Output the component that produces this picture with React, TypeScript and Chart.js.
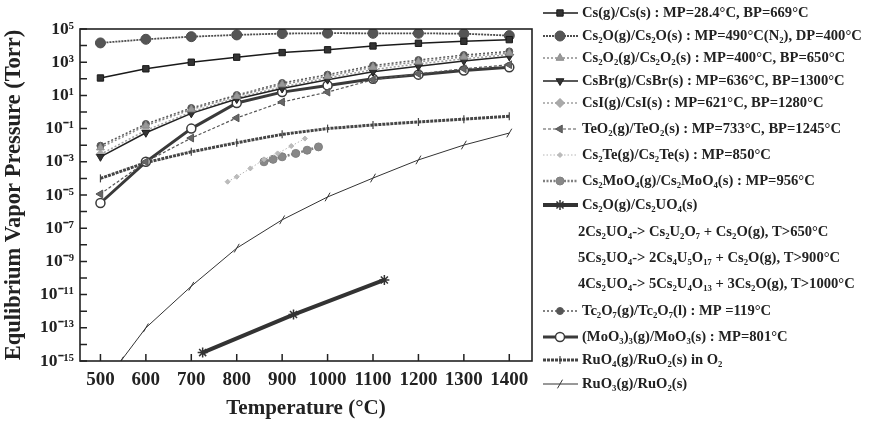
import React, { useEffect, useRef } from 'react';
import { Chart, registerables } from 'chart.js';
import { drawPoint } from 'chart.js/helpers';

Chart.register(...registerables);

const FONT = "'Liberation Serif', 'Times New Roman', serif";

// ---- data ----
const TEMPS = [500, 600, 700, 800, 900, 1000, 1100, 1200, 1300, 1400];
const CS = [112, 400, 1000, 2000, 3800, 5600, 9500, 13800, 18200, 22900];
const CS2O = [14500, 24000, 34500, 44000, 53000, 56000, 55000, 55000, 52000, 40000];
const CS2O2 = [7.1e-3, 0.15, 1.41, 8.9, 45, 141, 500, 1050, 2090, 3550];
const CSBR = [2.0e-3, 0.056, 0.83, 6.0, 26, 89, 263, 562, 1200, 2240];
const CSI = [2.8e-3, 0.079, 1.0, 7.1, 32, 112, 355, 794, 1580, 2820];
const TEO2 = [1.15e-5, 1.0e-3, 0.027, 0.44, 4.0, 15.8, 89, 200, 400, 708];
const CS2TE_T = [780, 800, 830, 860, 890, 920, 950];
const CS2TE = [6.3e-5, 1.26e-4, 4.0e-4, 1.4e-3, 3.2e-3, 8.9e-3, 0.025];
const CS2MOO4_T = [860, 880, 900, 930, 955, 980];
const CS2MOO4 = [1.0e-3, 1.4e-3, 2.0e-3, 3.2e-3, 5.0e-3, 7.9e-3];
const CS2UO4_T = [725, 925, 1125];
const CS2UO4 = [3.2e-15, 6.3e-13, 7.6e-11];
const TC2O7 = [9.3e-3, 0.19, 1.74, 10.5, 56, 178, 630, 1350, 2700, 4470];
const MOO3 = [3.3e-6, 1.0e-3, 0.1, 3.5, 15.8, 40, 100, 178, 316, 500];
const RUO4 = [1.0e-4, 8.9e-4, 4.0e-3, 0.014, 0.045, 0.1, 0.166, 0.25, 0.37, 0.56];
const RUO3_T = [545, 600, 700, 800, 900, 1000, 1100, 1200, 1300, 1400];
const RUO3 = [1e-15, 1e-13, 3.2e-11, 6.3e-9, 3.2e-7, 7.6e-6, 1.05e-4, 1.3e-3, 0.0102, 0.054];

const X_TICKS = [500, 600, 700, 800, 900, 1000, 1100, 1200, 1300, 1400];
const Y_EXPONENTS = [-15, -14, -13, -12, -11, -10, -9, -8, -7, -6, -5, -4, -3, -2, -1, 0, 1, 2, 3, 4, 5];

const LABELS = [
  'Cs(g)/Cs(s) : MP=28.4°C, BP=669°C',
  'Cs₂O(g)/Cs₂O(s) : MP=490°C(N₂), DP=400°C',
  'Cs₂O₂(g)/Cs₂O₂(s) : MP=400°C, BP=650°C',
  'CsBr(g)/CsBr(s) : MP=636°C, BP=1300°C',
  'CsI(g)/CsI(s) : MP=621°C, BP=1280°C',
  'TeO₂(g)/TeO₂(s) : MP=733°C, BP=1245°C',
  'Cs₂Te(g)/Cs₂Te(s) : MP=850°C',
  'Cs₂MoO₄(g)/Cs₂MoO₄(s) : MP=956°C',
  'Cs₂O(g)/Cs₂UO₄(s)',
  'Tc₂O₇(g)/Tc₂O₇(l) : MP =119°C',
  '(MoO₃)₃(g)/MoO₃(s) : MP=801°C',
  'RuO₄(g)/RuO₂(s) in O₂',
  'RuO₃(g)/RuO₂(s)',
];
const REACTIONS = [
  '2Cs₂UO₄-> Cs₂U₂O₇ + Cs₂O(g), T>650°C',
  '5Cs₂UO₄-> 2Cs₄U₅O₁₇ + Cs₂O(g), T>900°C',
  '4Cs₂UO₄-> 5Cs₂U₄O₁₃ + 3Cs₂O(g), T>1000°C',
];

type Style = {
  color: string; width: number; dash: number[];
  marker: string; radius: number; rotation: number; fill: string; bw: number;
};

const STYLES: Style[] = [
  { color: '#1a1a1a', width: 1.5, dash: [], marker: 'rect', radius: 4.5, rotation: 0, fill: '#333', bw: 1 },
  { color: '#4d4d4d', width: 1.8, dash: [2, 1], marker: 'circle', radius: 5, rotation: 0, fill: '#555', bw: 1 },
  { color: '#8c8c8c', width: 1.5, dash: [2, 2], marker: 'triangle', radius: 4.5, rotation: 0, fill: '#999', bw: 1 },
  { color: '#222', width: 1.5, dash: [], marker: 'triangle', radius: 4.5, rotation: 180, fill: '#333', bw: 1 },
  { color: '#a0a0a0', width: 1.5, dash: [2, 2], marker: 'rectRot', radius: 4.5, rotation: 0, fill: '#aaa', bw: 1 },
  { color: '#555', width: 1.2, dash: [3, 2], marker: 'triangle', radius: 4.5, rotation: -90, fill: '#666', bw: 1 },
  { color: '#b5b5b5', width: 1, dash: [1.5, 2], marker: 'rectRot', radius: 2.5, rotation: 0, fill: '#bbb', bw: 1 },
  { color: '#808080', width: 2.5, dash: [2, 1.5], marker: 'circle', radius: 4, rotation: 0, fill: '#888', bw: 1 },
  { color: '#333', width: 4, dash: [], marker: 'star', radius: 5, rotation: 0, fill: '#333', bw: 1.5 },
  { color: '#5a5a5a', width: 1.5, dash: [2, 2], marker: 'circle', radius: 3.5, rotation: 0, fill: '#555', bw: 1 },
  { color: '#3a3a3a', width: 3, dash: [], marker: 'circle', radius: 4.5, rotation: 0, fill: '#fff', bw: 1.5 },
  { color: '#454545', width: 3, dash: [3, 1], marker: 'line', radius: 4, rotation: 90, fill: '#444', bw: 1.2 },
  { color: '#333', width: 1, dash: [], marker: 'line', radius: 5, rotation: 120, fill: '#333', bw: 1 },
];

const SERIES_X = [TEMPS, TEMPS, TEMPS, TEMPS, TEMPS, TEMPS, CS2TE_T, CS2MOO4_T, CS2UO4_T, TEMPS, TEMPS, TEMPS, RUO3_T];
const SERIES_Y = [CS, CS2O, CS2O2, CSBR, CSI, TEO2, CS2TE, CS2MOO4, CS2UO4, TC2O7, MOO3, RUO4, RUO3];

// legend layout rows (center y) for the 13 series and 3 reaction notes
const LEGEND_SERIES_Y = [13, 36, 58, 81, 103, 129, 155, 181, 205, 311, 337, 360, 384];
const LEGEND_REACTION_Y = [232, 258, 284];

const SUP: Record<string, string> = {
  '-': '⁻', '0': '⁰', '1': '¹', '2': '²', '3': '³', '4': '⁴', '5': '⁵', '6': '⁶', '7': '⁷', '8': '⁸', '9': '⁹',
};
const sup = (s: string) => s.split('').map((c) => SUP[c] ?? c).join('');

const decor = {
  id: 'decor',
  afterDraw(chart: any) {
    const { ctx, chartArea: a, scales } = chart;
    ctx.save();
    ctx.strokeStyle = '#222';
    ctx.lineWidth = 1.6;
    ctx.setLineDash([]);
    ctx.strokeRect(a.left, a.top, a.right - a.left, a.bottom - a.top);
    ctx.lineWidth = 1.5;
    ctx.beginPath();
    for (const e of Y_EXPONENTS) {
      const y = scales.y.getPixelForValue(Math.pow(10, e));
      ctx.moveTo(a.left, y);
      ctx.lineTo(a.left + 7, y);
    }
    for (const t of X_TICKS) {
      const x = scales.x.getPixelForValue(t);
      ctx.moveTo(x, a.bottom);
      ctx.lineTo(x, a.bottom - 7);
    }
    ctx.stroke();

    // legend
    const x1 = 543, x2 = 578, xm = 560, tx = 582;
    ctx.font = `bold 14.6px ${FONT}`;
    ctx.textBaseline = 'middle';
    ctx.textAlign = 'left';
    LABELS.forEach((lab, i) => {
      const st = STYLES[i];
      const y = LEGEND_SERIES_Y[i];
      ctx.save();
      ctx.strokeStyle = st.color;
      ctx.lineWidth = st.width;
      ctx.setLineDash(st.dash);
      ctx.beginPath();
      ctx.moveTo(x1, y);
      ctx.lineTo(x2, y);
      ctx.stroke();
      ctx.setLineDash([]);
      ctx.fillStyle = st.fill;
      ctx.strokeStyle = st.color;
      ctx.lineWidth = st.bw;
      drawPoint(ctx, { pointStyle: st.marker, radius: st.radius, rotation: st.rotation, borderWidth: st.bw } as any, xm, y);
      ctx.restore();
      ctx.fillStyle = '#222';
      ctx.fillText(lab, tx, y);
    });
    REACTIONS.forEach((lab, i) => {
      ctx.fillStyle = '#222';
      ctx.fillText(lab, 578, LEGEND_REACTION_Y[i]);
    });
    ctx.restore();
  },
};

export default function App() {
  const ref = useRef<HTMLCanvasElement>(null);
  useEffect(() => {
    const canvas = ref.current!;
    const datasets = SERIES_Y.map((ys, i) => {
      const st = STYLES[i];
      const xs = SERIES_X[i];
      return {
        label: LABELS[i],
        data: ys.map((v, j) => ({ x: xs[j], y: v })),
        borderColor: st.color,
        borderWidth: st.width,
        borderDash: st.dash,
        pointStyle: st.marker,
        pointRadius: st.radius,
        pointRotation: st.rotation,
        pointBackgroundColor: st.fill,
        pointBorderColor: st.color,
        pointBorderWidth: st.bw,
        fill: false,
        tension: 0,
      };
    });
    const chart = new Chart(canvas, {
      type: 'line',
      data: { datasets },
      options: {
        animation: false,
        responsive: false,
        devicePixelRatio: 1,
        events: [],
        layout: { padding: { top: 29, right: 340, left: 0, bottom: 0 } },
        plugins: { legend: { display: false }, tooltip: { enabled: false } },
        scales: {
          x: {
            type: 'linear',
            min: 455,
            max: 1450,
            afterBuildTicks: (s: any) => { s.ticks = X_TICKS.map((v) => ({ value: v })); },
            afterFit: (s: any) => { s.height = 66; },
            grid: { display: false, drawTicks: false },
            border: { display: false },
            ticks: {
              autoSkip: false,
              maxRotation: 0,
              padding: 8,
              color: '#222',
              font: { family: FONT, size: 19, weight: 'bold' },
              callback: (v: any) => String(v),
            },
            title: {
              display: true,
              text: 'Temperature (°C)',
              color: '#222',
              font: { family: FONT, size: 21, weight: 'bold' },
              padding: { top: 0, bottom: 6 },
            },
          },
          y: {
            type: 'logarithmic',
            min: 1e-15,
            max: 1e5,
            afterBuildTicks: (s: any) => { s.ticks = Y_EXPONENTS.map((e) => ({ value: Math.pow(10, e) })); },
            afterFit: (s: any) => { s.width = 80; },
            grid: { display: false, drawTicks: false },
            border: { display: false },
            ticks: {
              autoSkip: false,
              padding: 6,
              color: '#222',
              font: { family: FONT, size: 17.5, weight: 'bold' },
              callback: (v: any) => {
                const e = Math.round(Math.log10(v));
                return Math.abs(e % 2) === 1 ? '10' + sup(String(e)) : '';
              },
            },
            title: {
              display: true,
              text: 'Equlibrium Vapor Pressure (Torr)',
              color: '#222',
              font: { family: FONT, size: 22.5, weight: 'bold' },
              padding: { top: 1, bottom: 0 },
            },
          },
        },
      },
      plugins: [decor],
    } as any);
    return () => chart.destroy();
  }, []);
  return (
    <div style={{ position: 'fixed', left: 0, top: 0, width: 872, height: 427, background: '#fff' }}>
      <canvas ref={ref} width={872} height={427} style={{ display: 'block' }} />
    </div>
  );
}
